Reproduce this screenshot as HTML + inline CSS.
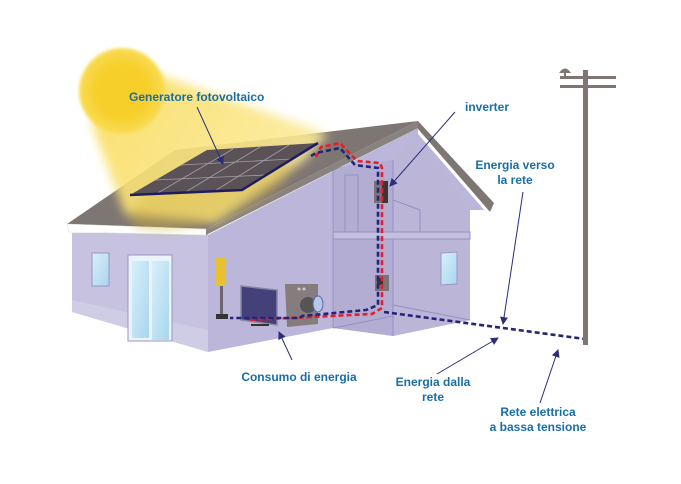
<!DOCTYPE html>
<html><head><meta charset="utf-8"><style>
html,body{margin:0;padding:0;background:#fff;}
svg{display:block;}
text{font-family:"Liberation Sans",sans-serif;font-weight:bold;font-size:12px;fill:#1a6ea6;}
</style></head><body>
<svg width="681" height="484" viewBox="0 0 681 484" xmlns="http://www.w3.org/2000/svg">
<defs>
<filter id="bl" x="-30%" y="-30%" width="160%" height="160%"><feGaussianBlur stdDeviation="5"/></filter>
<filter id="bl2"><feGaussianBlur stdDeviation="1.5"/></filter>
<linearGradient id="beam" x1="0" y1="0" x2="1" y2="0.4">
<stop offset="0" stop-color="#f9dc5c"/><stop offset="1" stop-color="#fbeb9c"/></linearGradient>
<linearGradient id="win" x1="0" y1="0" x2="1" y2="1"><stop offset="0" stop-color="#d8effa"/><stop offset="1" stop-color="#a9d6ee"/></linearGradient>
<radialGradient id="sun"><stop offset="0.6" stop-color="#f7cf2a"/><stop offset="1" stop-color="#f9dc55"/></radialGradient>
<marker id="ar" markerWidth="8" markerHeight="8" refX="7" refY="4" orient="auto" markerUnits="userSpaceOnUse"><path d="M0,0 L8,4 L0,8 Z" fill="#2b2d7a"/></marker>
</defs>

<!-- whole side/gable wall -->
<polygon points="208,235 418,128 490,210 470,210 470,320 393,336 333,328 208,352" fill="#bcb7da"/>
<!-- interior back -->
<polygon points="333,168 393,160 393,336 333,328" fill="#b3add3"/>
<polygon points="393,160 418,132 470,210 470,320 393,336" fill="#bbb6d8"/>
<!-- front wall -->
<polygon points="72,233 208,233 208,352 72,312" fill="#c6c2e0"/>
<polygon points="72,300 208,330 208,352 72,312" fill="#d5d2e9" opacity="0.6"/>
<!-- interior lines -->
<g stroke="#9690c0" stroke-width="1" fill="none">
<line x1="333" y1="168" x2="333" y2="328"/>
<line x1="393" y1="160" x2="393" y2="336"/>
<rect x="333" y="232" width="137" height="7" fill="#c3bfdd"/>
<polyline points="345,175 358,175 358,232"/>
<line x1="345" y1="175" x2="345" y2="232"/>
<polyline points="393,200 420,210 420,232"/>
<line x1="333" y1="328" x2="393" y2="316"/>
<line x1="393" y1="305" x2="470" y2="320"/>
</g>
<!-- right roof -->
<polygon points="418,121 494,203 490,212 418,129" fill="#7e7672"/>
<polygon points="418,129 490,212 486,212 418,134" fill="#ffffff"/>
<!-- left roof plane -->
<polygon points="67,224 206,229 418,121 175,150" fill="#7e7672"/>
<polygon points="67,224 206,229 206,235 69,232" fill="#ffffff" stroke="#ddd" stroke-width="0.5"/>
<polygon points="206,229 418,121 418,128 206,235" fill="#8a827e"/>
<!-- sun beam -->
<polygon points="140,68 328,134 305,160 215,222 125,214 92,125" fill="url(#beam)" opacity="0.9" filter="url(#bl)"/>
<ellipse cx="210" cy="192" rx="85" ry="28" fill="#d6b53a" opacity="0.4" filter="url(#bl)" transform="rotate(-20 210 192)"/>
<!-- sun -->
<circle cx="122" cy="91" r="43" fill="url(#sun)" filter="url(#bl2)"/>
<!-- panel -->
<polygon points="130,195 242,190 318,143 207,150" fill="#5a5257"/>
<g stroke="#a59ea6" stroke-width="0.8">
<line x1="156" y1="194" x2="233" y2="149"/><line x1="184" y1="193" x2="260" y2="147"/><line x1="213" y1="192" x2="289" y2="145"/>
<line x1="155" y1="180" x2="267" y2="175"/><line x1="181" y1="165" x2="292" y2="159"/>
</g>
<polyline points="130,195 242,190 318,143" fill="none" stroke="#1e1e5e" stroke-width="2.5"/>
<!-- windows / door -->
<rect x="92" y="253" width="17" height="33" fill="url(#win)" stroke="#9a95c4" stroke-width="1"/>
<rect x="128" y="255" width="44" height="86" fill="#e9f4fb" stroke="#9a95c4" stroke-width="1"/>
<rect x="132" y="261" width="17" height="77" fill="url(#win)"/>
<rect x="152" y="261" width="17" height="79" fill="url(#win)"/>
<polygon points="441,253 457,252 457,284 441,285" fill="url(#win)" stroke="#9a95c4" stroke-width="1"/>
<!-- lamp -->
<rect x="216" y="257" width="10" height="29" fill="#e7c22e"/>
<rect x="220" y="286" width="3" height="30" fill="#6c6470"/>
<rect x="216" y="314" width="12" height="5" fill="#333"/>
<!-- TV -->
<polygon points="241,286 277,290 277,325 241,320" fill="#44407a" stroke="#8a86a6" stroke-width="1.5"/>
<rect x="251" y="324" width="18" height="2" fill="#333"/>
<!-- washer -->
<polygon points="285,284 318,284 318,324 287,327" fill="#857c7e"/>
<circle cx="308" cy="305" r="8" fill="#555"/>
<ellipse cx="318" cy="304" rx="5" ry="8" fill="#b7c7ea" stroke="#5a66aa" stroke-width="1"/>
<circle cx="299" cy="289" r="1.5" fill="#ccc"/><circle cx="304" cy="289" r="1.5" fill="#ccc"/>
<!-- inverter -->
<rect x="374" y="181" width="14" height="22" fill="#7b7477"/>
<rect x="382" y="181" width="6" height="22" fill="#3b3537"/>
<!-- meter -->
<rect x="375" y="275" width="14" height="16" fill="#7b7477"/>
<rect x="377" y="278" width="6" height="7" fill="#3b3537"/>
<!-- cables -->
<g fill="none" stroke-width="2.6" stroke-dasharray="5,3">
<polyline points="316,157 321,147 340,143 357,161 380,163 382,168 382,308 372,314 248,320" stroke="#e0202a"/>
<polyline points="311,156 316,153 340,148 355,165 378,168 378,305 366,310 302,316 300,318 230,318" stroke="#24247a"/>
<polyline points="384,312 585,339" stroke="#24247a"/>
</g>
<!-- pole -->
<rect x="583" y="70" width="5" height="275" fill="#7f7672"/>
<rect x="560" y="76" width="56" height="3" fill="#7f7672"/>
<rect x="560" y="85" width="56" height="3" fill="#7f7672"/>
<path d="M559,73 Q565,64 571,73 Z" fill="#7f7672"/><rect x="564" y="72" width="2" height="5" fill="#7f7672"/>
<!-- arrows -->
<g stroke="#2b2d7a" stroke-width="1" marker-end="url(#ar)">
<line x1="197" y1="107" x2="223" y2="164"/>
<line x1="455" y1="112" x2="390" y2="186"/>
<line x1="523" y1="192" x2="503" y2="324"/>
<line x1="292" y1="360" x2="279" y2="332"/>
<line x1="437" y1="374" x2="498" y2="338"/>
<line x1="540" y1="403" x2="558" y2="350"/>
</g>
<!-- labels -->
<text x="129" y="101">Generatore fotovoltaico</text>
<text x="465" y="111">inverter</text>
<text x="515" y="169" text-anchor="middle">Energia verso</text>
<text x="515" y="184" text-anchor="middle">la rete</text>
<text x="299" y="381" text-anchor="middle">Consumo di energia</text>
<text x="433" y="386" text-anchor="middle">Energia dalla</text>
<text x="433" y="401" text-anchor="middle">rete</text>
<text x="538" y="416" text-anchor="middle">Rete elettrica</text>
<text x="538" y="431" text-anchor="middle">a bassa tensione</text>
</svg>
</body></html>
